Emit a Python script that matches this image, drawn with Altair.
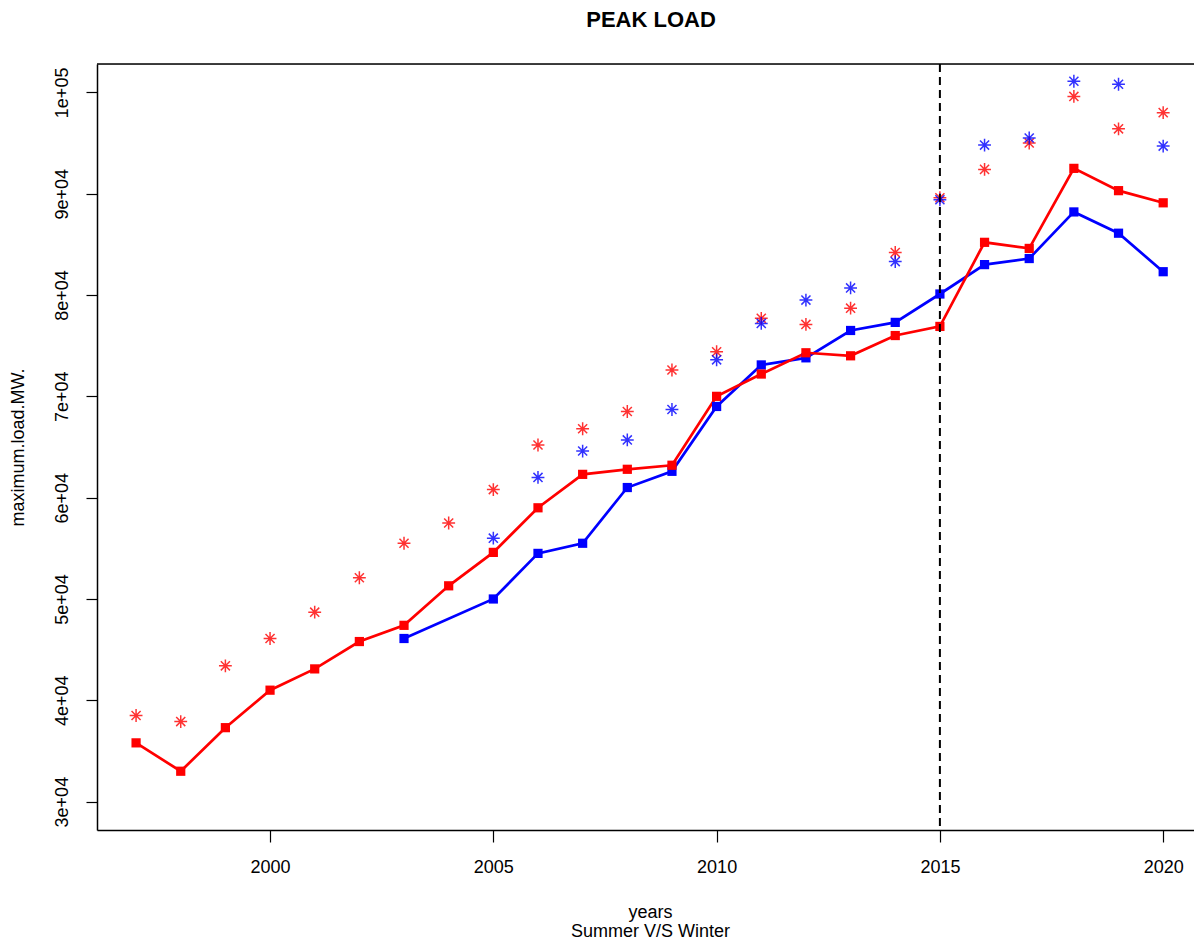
import altair as alt
import pandas as pd

title_text = "PEAK LOAD"
years = list(range(1997, 2021))

# red series (line with squares)
red_line = [35800, 33000, 37300, 41000, 43100, 45800, 47400, 51300, 54600, 59000,
            62300, 62800, 63200, 70000, 72200, 74300, 74000, 76000, 76900, 85200,
            84600, 92500, 90300, 89100]
# blue series (line with squares), starts 2003, no 2004
blue_line_years = [2003, 2005, 2006, 2007, 2008, 2009, 2010, 2011, 2012, 2013,
                   2014, 2015, 2016, 2017, 2018, 2019, 2020]
blue_line = [46100, 50000, 54500, 55500, 61000, 62600, 69000, 73100, 73800, 76500,
             77300, 80100, 83000, 83600, 88200, 86100, 82300]
# red stars
red_star = [38500, 37900, 43400, 46100, 48700, 52100, 55500, 57500, 60800, 65200,
            66800, 68500, 72600, 74400, 77700, 77100, 78700, 84200, 89600, 92400,
            95000, 99600, 96400, 98000]
# blue stars, from 2005
blue_star_years = list(range(2005, 2021))
blue_star = [56000, 62000, 64600, 65700, 68700, 73600, 77200, 79500, 80700, 83300,
             89400, 94800, 95500, 101100, 100800, 94700]

x_ticks = [2000, 2005, 2010, 2015, 2020]
y_ticks = [30000, 40000, 50000, 60000, 70000, 80000, 90000, 100000]
y_tick_labels = ["3e+04", "4e+04", "5e+04", "6e+04", "7e+04", "8e+04", "9e+04", "1e+05"]
vline_year = [2015]

lines_df = pd.DataFrame(
    {"year": blue_line_years + years,
     "value": blue_line + red_line,
     "series": ["blue"] * len(blue_line) + ["red"] * len(red_line)}
)
stars_df = pd.DataFrame(
    {"year": years + blue_star_years,
     "value": red_star + blue_star,
     "series": ["red"] * len(red_star) + ["blue"] * len(blue_star)}
)
vline_df = pd.DataFrame({"year": vline_year})
title_df = pd.DataFrame({"label": [title_text]})

FONT = "Liberation Sans"
W, H = 1097, 766
PAD_TOP, PAD_LEFT = 56, 89
SVG_H = 932

label_expr = " : ".join(
    f"datum.value == {v} ? '{l}'" for v, l in zip(y_ticks, y_tick_labels)
) + " : ''"

xscale = alt.Scale(domain=[1996.125, 2020.69], nice=False, zero=False)
yscale = alt.Scale(domain=[27200, 102800], nice=False, zero=False)
color = alt.Color("series:N", scale=alt.Scale(domain=["blue", "red"], range=["#0000FF", "#FF0000"]), legend=None)

xaxis = alt.Axis(values=x_ticks, format="d", grid=False, tickSize=12, tickColor="black",
                 domainColor="black", domainWidth=1.5, tickWidth=1.2,
                 labelFontSize=18, labelFont=FONT, labelColor="black", labelPadding=25,
                 labelBaseline="middle",
                 title=["years", "Summer V/S Winter"], titleFont=FONT, titleFontSize=18,
                 titleFontWeight="normal", titleColor="black", titleLineHeight=19,
                 titleX=553, titleY=87, titleBaseline="alphabetic", titleAlign="center")
yaxis = alt.Axis(values=y_ticks, labelExpr=label_expr, grid=False, tickSize=11, tickColor="black",
                 domainColor="black", domainWidth=1.5, tickWidth=1.2,
                 labelFontSize=18, labelFont=FONT, labelColor="black", labelAngle=270,
                 labelAlign="center", labelBaseline="middle", labelPadding=24,
                 title="maximum.load.MW.", titleFont=FONT, titleFontSize=18,
                 titleFontWeight="normal", titleColor="black", titleAngle=270,
                 titleX=-79, titleY=H / 2, titleAlign="center", titleBaseline="middle")

base_x = alt.X("year:Q", scale=xscale, axis=xaxis)
base_y = alt.Y("value:Q", scale=yscale, axis=yaxis)

lines = alt.Chart(lines_df).mark_line(strokeWidth=2.7, clip=True).encode(
    x=base_x, y=base_y, color=color, detail="series:N"
)
squares = alt.Chart(lines_df).mark_point(shape="square", filled=True, size=85, opacity=1, clip=True).encode(
    x="year:Q", y="value:Q", color=color
)
star_path = "M-1,0L1,0M0,-1L0,1M-0.707,-0.707L0.707,0.707M-0.707,0.707L0.707,-0.707"
stars = alt.Chart(stars_df).mark_point(shape=star_path, filled=False, size=165, strokeWidth=1.5,
                                       opacity=0.8, clip=True).encode(
    x="year:Q", y="value:Q", color=color
)
vline = alt.Chart(vline_df).mark_rule(color="black", strokeWidth=2, strokeDash=[8, 5]).encode(
    x="year:Q"
)
topline = alt.Chart(vline_df).mark_rule(color="black", strokeWidth=1.5).encode(
    x=alt.value(0), x2=alt.value(W), y=alt.value(0)
)
title = alt.Chart(title_df).mark_text(font=FONT, fontSize=22, fontWeight="bold", color="black",
                                      align="center", baseline="alphabetic").encode(
    x=alt.value(554), y=alt.value(-37), text="label:N"
)

chart = alt.layer(lines, squares, stars, vline, topline, title).properties(
    width=W, height=H,
    autosize=alt.AutoSizeParams(type="none"),
    padding={"left": PAD_LEFT, "top": PAD_TOP, "right": 0, "bottom": SVG_H - PAD_TOP - H},
).configure_view(stroke=None).configure(background="white")

chart.save("out.html", embed_options={"renderer": "svg", "actions": False})
